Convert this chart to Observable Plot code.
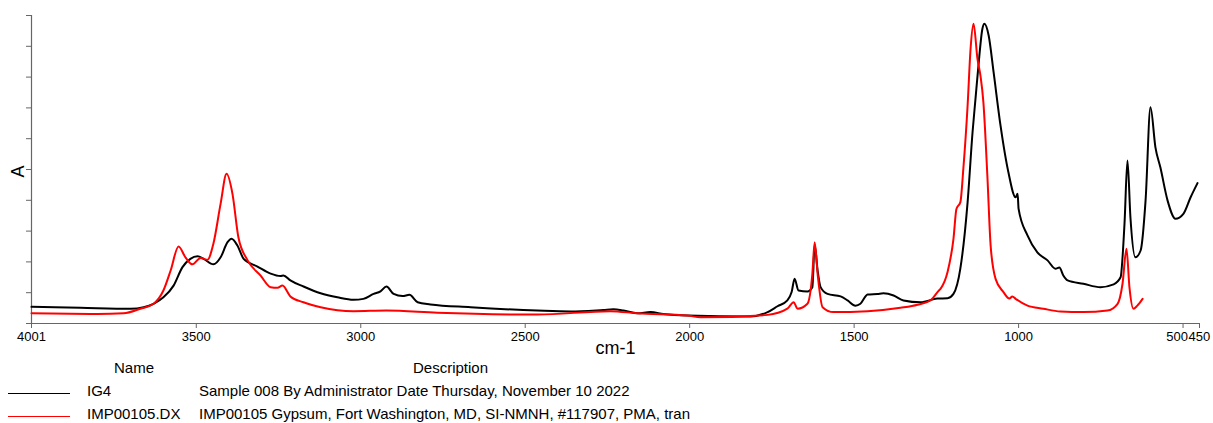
<!DOCTYPE html>
<html><head><meta charset="utf-8">
<script src="https://cdn.jsdelivr.net/npm/d3@7"></script>
<script src="https://cdn.jsdelivr.net/npm/@observablehq/plot@0.6"></script>
<style>
body{margin:0;background:#fff;font-family:"Liberation Sans",Arial,sans-serif;}
#wrap{position:relative;width:1213px;height:423px;overflow:hidden}
#legend{position:absolute;left:0;top:0;width:1213px;height:423px}
.t{position:absolute;font-size:15px;color:#000;white-space:nowrap;line-height:15px}
.ln{position:absolute;height:0;border-top:1px solid}
</style></head><body>
<div id="wrap"><div id="chart"></div><div id="legend"></div></div>
<script>
// ---- data ----
const seriesNames = ["IG4", "IMP00105.DX"];
const seriesDesc = [
  "Sample 008 By Administrator Date Thursday, November 10 2022",
  "IMP00105 Gypsum, Fort Washington, MD, SI-NMNH, #117907, PMA, tran"
];
const seriesColors = ["#000000", "#ff0000"];

const ig4Wn = [4001,3852,3700,3660,3630,3600,3569,3542,3518,3496,3478,3448,3426,3405,3393,3375,3356,3314,3274,3244,3235,3214,3174,3122,3071,3022,2992,2961,2940,2922,2900,2873,2852,2827,2788,2666,2463,2362,2262,2232,2201,2159,2119,2080,2007,1815,1763,1733,1703,1690,1681,1669,1642,1627,1620,1611,1602,1581,1541,1520,1496,1481,1459,1429,1411,1380,1350,1298,1247,1216,1198,1177,1155,1140,1131,1122,1110,1104,1091,1076,1055,1031,1009,1003,1000,973,943,912,888,876,864,851,803,751,711,690,678,669,660,645,629,614,599,584,569,547,523,499,477,456];
const ig4A = [0.054,0.051,0.048,0.053,0.064,0.085,0.123,0.183,0.210,0.218,0.210,0.192,0.215,0.264,0.275,0.253,0.210,0.185,0.162,0.154,0.156,0.140,0.120,0.098,0.085,0.077,0.080,0.096,0.104,0.120,0.096,0.089,0.093,0.069,0.062,0.053,0.042,0.039,0.044,0.046,0.042,0.033,0.037,0.031,0.026,0.023,0.037,0.056,0.075,0.102,0.145,0.107,0.104,0.118,0.256,0.172,0.118,0.096,0.088,0.075,0.058,0.064,0.094,0.096,0.098,0.091,0.075,0.069,0.081,0.082,0.096,0.179,0.394,0.621,0.730,0.838,0.957,0.973,0.935,0.816,0.643,0.491,0.410,0.421,0.372,0.286,0.231,0.205,0.178,0.182,0.156,0.140,0.129,0.118,0.127,0.150,0.324,0.529,0.345,0.215,0.237,0.399,0.702,0.572,0.507,0.399,0.340,0.356,0.410,0.456];

const impWn = [4001,3800,3721,3670,3630,3600,3578,3554,3533,3512,3487,3466,3448,3426,3408,3390,3372,3344,3305,3274,3253,3238,3214,3174,3122,3022,2922,2767,2463,2241,2159,2007,1967,1763,1703,1684,1672,1642,1627,1620,1611,1596,1563,1459,1359,1307,1268,1244,1237,1216,1198,1189,1177,1168,1155,1146,1137,1125,1116,1107,1095,1085,1070,1046,1028,1019,1009,973,925,873,803,730,699,684,672,663,651,639,623];
const impA = [0.033,0.031,0.033,0.048,0.064,0.107,0.172,0.250,0.215,0.192,0.213,0.207,0.259,0.389,0.486,0.421,0.280,0.205,0.156,0.118,0.116,0.123,0.088,0.069,0.053,0.040,0.042,0.035,0.029,0.040,0.033,0.026,0.020,0.028,0.048,0.069,0.048,0.064,0.161,0.264,0.161,0.053,0.037,0.040,0.051,0.061,0.075,0.105,0.113,0.167,0.275,0.372,0.394,0.502,0.708,0.892,0.973,0.859,0.805,0.718,0.481,0.253,0.145,0.102,0.081,0.088,0.080,0.058,0.048,0.039,0.037,0.042,0.064,0.129,0.243,0.118,0.048,0.058,0.080];

const xTicks = [4001, 3500, 3000, 2500, 2000, 1500, 1000, 500, 450];
const yTicks = [0, 0.1, 0.2, 0.3, 0.4, 0.5, 0.6, 0.7, 0.8, 0.9, 1.0];
const xLabel = "cm-1";
const yLabel = "A";

// ---- build ----
const rows = [
  ...ig4Wn.map((w, i) => ({wn: w, a: ig4A[i], s: seriesNames[0]})),
  ...impWn.map((w, i) => ({wn: w, a: impA[i], s: seriesNames[1]}))
];
const crowded = [500, 450];
const H = 362;
const font = '"Liberation Sans", Arial, sans-serif';
const chart = Plot.plot({
  width: 1213, height: H,
  marginLeft: 31, marginRight: 14, marginTop: 15, marginBottom: H - 323,
  style: {fontFamily: font, fontSize: "13px", color: "#000", background: "#fff"},
  x: {domain: [4001, 450]},
  y: {domain: [0, 1]},
  color: {domain: seriesNames, range: seriesColors},
  marks: [
    Plot.axisX({ticks: xTicks, tickFormat: d => crowded.includes(d) ? "" : String(d), tickSize: 5, tickPadding: 3, label: null, stroke: "#666", fill: "#000"}),
    Plot.text([crowded[0]], {x: d => d, frameAnchor: "bottom", lineAnchor: "top", dy: 8, dx: 5, textAnchor: "end", fontSize: 13, fill: "#000"}),
    Plot.text([crowded[1]], {x: d => d, frameAnchor: "bottom", lineAnchor: "top", dy: 8, dx: -11, textAnchor: "start", fontSize: 13, fill: "#000"}),
    Plot.axisY({ticks: yTicks, tickFormat: () => "", tickSize: 5, label: null, stroke: "#666"}),
    Plot.ruleY([0], {stroke: "#666", strokeWidth: 1.2}),
    Plot.ruleX([4001], {stroke: "#666", strokeWidth: 1.2}),
    Plot.line(rows, {x: "wn", y: "a", stroke: "s", z: "s", strokeWidth: 2, curve: "monotone-x"}),
    Plot.text([xLabel], {frameAnchor: "bottom", dy: 30, fontSize: 18, fill: "#000"}),
    Plot.text([yLabel], {frameAnchor: "left", dx: -13, dy: 8, rotate: -90, fontSize: 18, fill: "#000"})
  ]
});
document.getElementById("chart").appendChild(chart);

// legend
const lg = document.getElementById("legend");
function addText(txt, left, top) {
  const d = document.createElement("div");
  d.className = "t"; d.textContent = txt;
  d.style.left = left + "px"; d.style.top = top + "px";
  lg.appendChild(d);
}
addText("Name", 114, 360);
addText("Description", 413, 360);
seriesNames.forEach((n, i) => {
  const ln = document.createElement("div");
  ln.className = "ln";
  ln.style.left = "8px"; ln.style.width = "62px";
  ln.style.top = (393 + i * 23) + "px";
  ln.style.borderColor = seriesColors[i];
  lg.appendChild(ln);
  addText(n, 87, 383 + i * 23);
  addText(seriesDesc[i], 199, 383 + i * 23);
});
</script>
</body></html>
